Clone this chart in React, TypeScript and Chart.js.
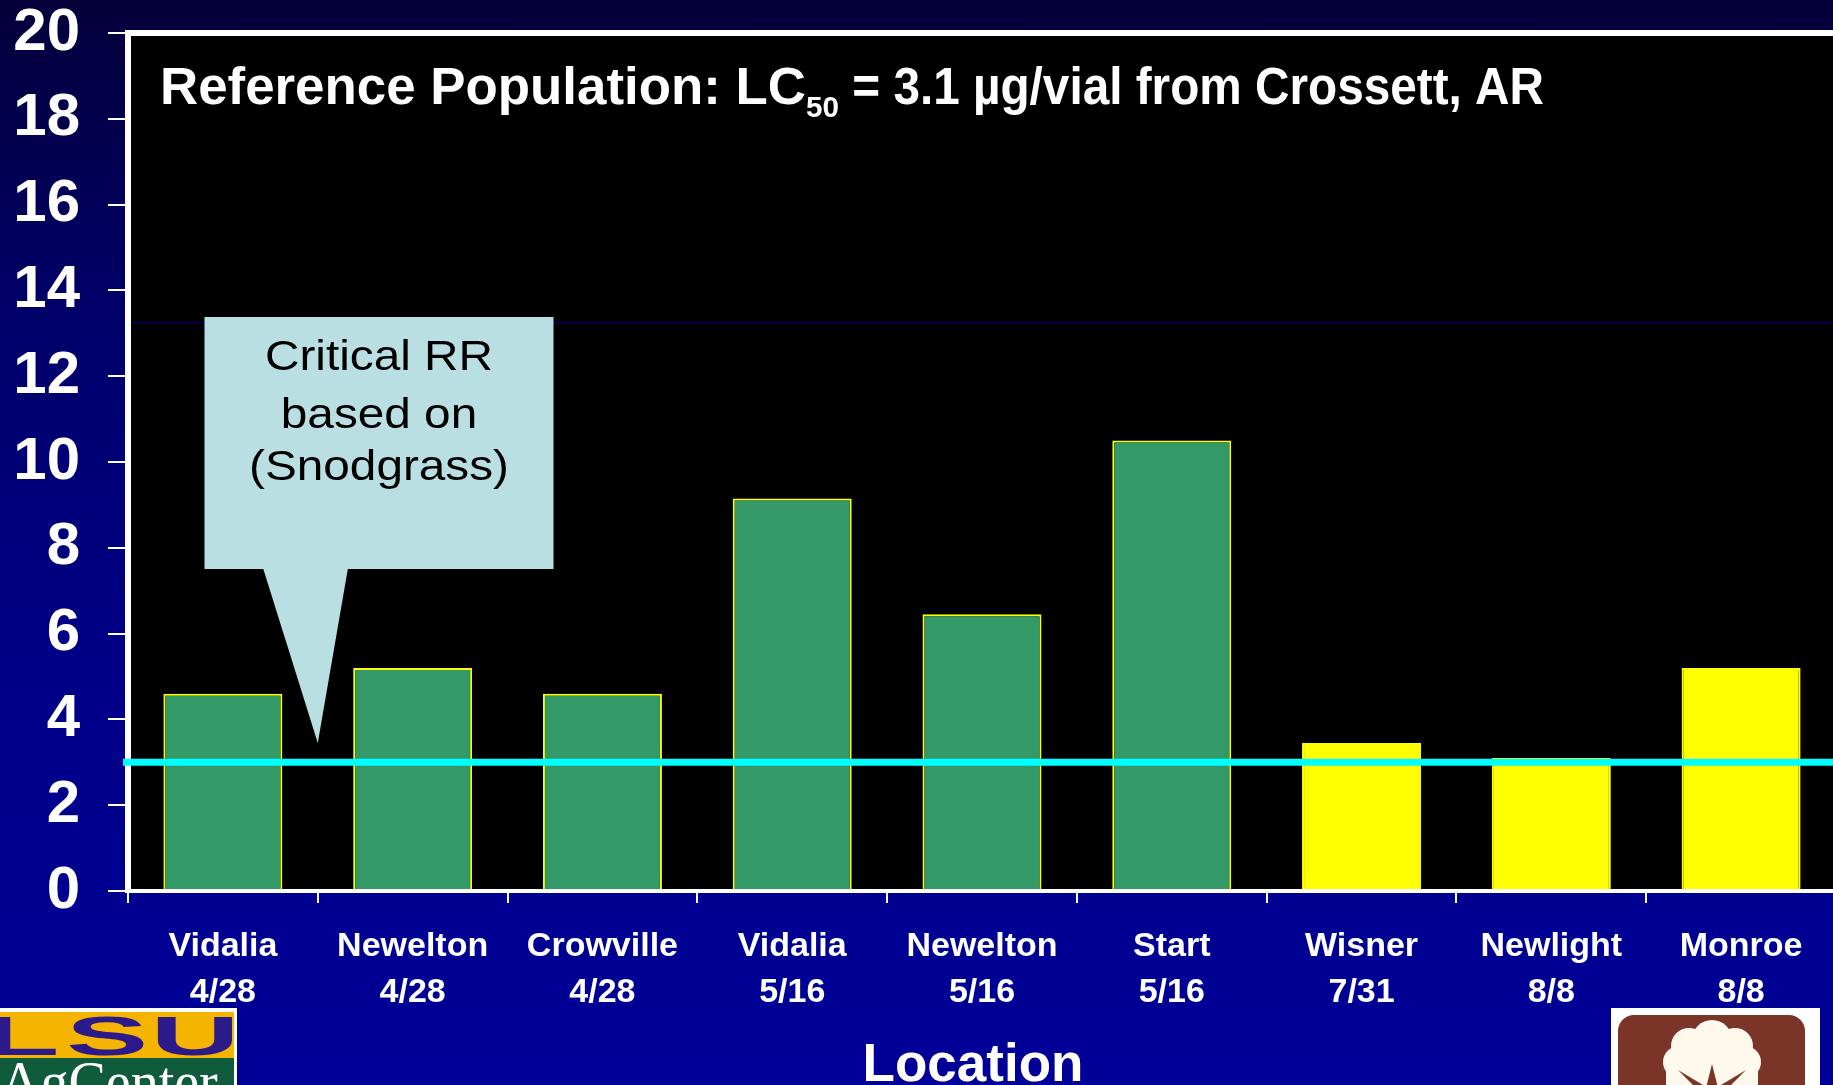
import React, { useEffect, useRef } from "react";
import { Chart, registerables } from "chart.js";

Chart.register(...registerables);

// ---------- data ----------
const locations = ["Vidalia", "Newelton", "Crowville", "Vidalia", "Newelton", "Start", "Wisner", "Newlight", "Monroe"];
const sampleDates = ["4/28", "4/28", "4/28", "5/16", "5/16", "5/16", "7/31", "8/8", "8/8"];
const resistanceRatios = [4.6, 5.2, 4.6, 9.15, 6.45, 10.5, 3.45, 3.1, 5.2];
const barFills = ["#339966", "#339966", "#339966", "#339966", "#339966", "#339966", "#FFFF00", "#FFFF00", "#FFFF00"];
const criticalRR = 3;
const faintGuideValue = 13.25;
const yMin = 0;
const yMax = 20;
const yStep = 2;
const titleMain = "Reference Population: LC";
const titleSub = "50";
const titleRest = " = 3.1 µg/vial from Crossett, AR";
const calloutLines = ["Critical RR", "based on", "(Snodgrass)"];
const xAxisTitle = "Location";

// ---------- layout ----------
const W = 1836;
const H = 1085;
const PLOT_TOP = 33;
const PLOT_LEFT = 128;
const PLOT_BOTTOM = 891;
const FONT = '"Liberation Sans", Arial, Helvetica, sans-serif';

function fitText(ctx: CanvasRenderingContext2D, text: string, x: number, y: number, targetW: number) {
  const w = ctx.measureText(text).width;
  ctx.save();
  ctx.translate(x, y);
  ctx.scale(targetW / w, 1);
  ctx.fillText(text, 0, 0);
  ctx.restore();
}

const decorPlugin = {
  id: "slideDecor",
  beforeDatasetsDraw(chart: any) {
    const { ctx, chartArea: a, scales } = chart;
    ctx.save();
    ctx.fillStyle = "#000000";
    ctx.fillRect(a.left, a.top, a.right - a.left, a.bottom - a.top);
    const fy = scales.y.getPixelForValue(faintGuideValue);
    ctx.strokeStyle = "#00005e";
    ctx.lineWidth = 1.5;
    ctx.beginPath();
    ctx.moveTo(a.left, fy);
    ctx.lineTo(a.right, fy);
    ctx.stroke();
    ctx.restore();
  },
  afterDatasetsDraw(chart: any) {
    const { ctx, chartArea: a, scales } = chart;
    ctx.save();
    // white frame
    ctx.strokeStyle = "#ffffff";
    ctx.lineWidth = 6;
    ctx.beginPath();
    ctx.moveTo(a.left - 3, a.top);
    ctx.lineTo(a.right, a.top);
    ctx.stroke();
    ctx.beginPath();
    ctx.moveTo(a.left, a.top - 3);
    ctx.lineTo(a.left, a.bottom + 2);
    ctx.stroke();
    ctx.lineWidth = 4;
    ctx.beginPath();
    ctx.moveTo(a.left - 3, a.bottom);
    ctx.lineTo(a.right, a.bottom);
    ctx.stroke();

    // critical RR line
    const cy = scales.y.getPixelForValue(criticalRR);
    ctx.strokeStyle = "#00FFFF";
    ctx.lineWidth = 7;
    ctx.beginPath();
    ctx.moveTo(a.left - 5, cy);
    ctx.lineTo(a.right, cy);
    ctx.stroke();

    // callout
    ctx.fillStyle = "#B9DFE3";
    ctx.fillRect(204.5, 317, 349, 252);
    ctx.beginPath();
    ctx.moveTo(263, 568);
    ctx.lineTo(348, 568);
    ctx.lineTo(scales.x.getPixelForValue(0.5), 743);
    ctx.closePath();
    ctx.fill();
    ctx.fillStyle = "#000000";
    ctx.font = `43px ${FONT}`;
    ctx.textAlign = "center";
    ctx.textBaseline = "alphabetic";
    const baselines = [370, 428, 480];
    calloutLines.forEach((line, i) => {
      ctx.save();
      ctx.translate(379, baselines[i]);
      ctx.scale(1.11, 1);
      ctx.fillText(line, 0, 0);
      ctx.restore();
    });

    // title inside plot
    ctx.fillStyle = "#ffffff";
    ctx.textAlign = "left";
    ctx.font = `bold 51px ${FONT}`;
    fitText(ctx, titleMain, 160, 104, 806 - 160);
    ctx.font = `bold 29px ${FONT}`;
    fitText(ctx, titleSub, 806, 117, 33);
    ctx.font = `bold 51px ${FONT}`;
    fitText(ctx, titleRest, 839, 104, 1544 - 839);
    ctx.restore();
  },
  afterDraw(chart: any) {
    const { ctx } = chart;
    ctx.save();
    // x axis title
    ctx.fillStyle = "#ffffff";
    ctx.font = `bold 53px ${FONT}`;
    ctx.textAlign = "center";
    ctx.textBaseline = "alphabetic";
    ctx.fillText(xAxisTitle, 973, 1081);

    // LSU AgCenter logo
    ctx.fillStyle = "#ffffff";
    ctx.fillRect(0, 1008, 237, 80);
    ctx.fillStyle = "#F4B400";
    ctx.fillRect(0, 1012, 234, 46);
    ctx.fillStyle = "#0F5B3B";
    ctx.fillRect(0, 1058, 234, 30);
    ctx.save();
    ctx.beginPath();
    ctx.rect(0, 1012, 234, 46);
    ctx.clip();
    ctx.fillStyle = "#2D1A8A";
    ctx.font = `bold 56px ${FONT}`;
    ctx.textAlign = "center";
    [["L", 22], ["S", 107], ["U", 195]].forEach(([t, cx]) => {
      ctx.save();
      ctx.translate(cx as number, 1055);
      ctx.scale(2.2, 1);
      ctx.fillText(t as string, 0, 0);
      ctx.restore();
    });
    ctx.restore();
    ctx.save();
    ctx.beginPath();
    ctx.rect(0, 1058, 234, 30);
    ctx.clip();
    ctx.fillStyle = "#ffffff";
    ctx.font = `56px "Liberation Serif", serif`;
    ctx.textAlign = "left";
    ctx.fillText("AgCenter", 0, 1101);
    ctx.restore();

    // cotton logo
    ctx.fillStyle = "#ffffff";
    ctx.fillRect(1611, 1008, 209, 80);
    ctx.fillStyle = "#7A3428";
    ctx.beginPath();
    (ctx as any).roundRect(1618, 1015, 187, 100, 16);
    ctx.fill();
    ctx.fillStyle = "#FFF8EC";
    const circles = [
      [1712, 1040, 20], [1689, 1046, 18], [1735, 1046, 18],
      [1679, 1062, 16], [1745, 1062, 16], [1712, 1060, 24],
    ];
    circles.forEach(([cx, cy, r]) => {
      ctx.beginPath();
      ctx.arc(cx, cy, r, 0, Math.PI * 2);
      ctx.fill();
    });
    ctx.fillRect(1666, 1062, 92, 30);
    ctx.fillStyle = "#7A3428";
    ctx.beginPath();
    ctx.moveTo(1678, 1070);
    ctx.lineTo(1708, 1088);
    ctx.lineTo(1696, 1088);
    ctx.closePath();
    ctx.fill();
    ctx.beginPath();
    ctx.moveTo(1712, 1064);
    ctx.lineTo(1718, 1088);
    ctx.lineTo(1706, 1088);
    ctx.closePath();
    ctx.fill();
    ctx.beginPath();
    ctx.moveTo(1746, 1070);
    ctx.lineTo(1728, 1088);
    ctx.lineTo(1716, 1088);
    ctx.closePath();
    ctx.fill();
    ctx.restore();
  },
};

export default function App() {
  const canvasRef = useRef<HTMLCanvasElement | null>(null);

  useEffect(() => {
    const canvas = canvasRef.current;
    if (!canvas) return;
    const labels = locations.map((loc, i) => [loc, sampleDates[i]]);
    const chart = new Chart(canvas, {
      type: "bar",
      data: {
        labels,
        datasets: [
          {
            data: resistanceRatios,
            backgroundColor: barFills,
            borderColor: "#FFFF00",
            borderWidth: 2,
            barPercentage: 0.627,
            categoryPercentage: 1,
          },
        ],
      },
      options: {
        animation: false,
        responsive: false,
        devicePixelRatio: 1,
        layout: { padding: { top: PLOT_TOP, left: 0, right: 0, bottom: 0 } },
        plugins: {
          legend: { display: false },
          tooltip: { enabled: false },
          title: { display: false },
        },
        scales: {
          x: {
            type: "category",
            offset: true,
            border: { display: false },
            grid: {
              display: true,
              offset: true,
              drawOnChartArea: false,
              drawTicks: true,
              tickLength: 12,
              color: "#ffffff",
              lineWidth: 2,
            },
            ticks: {
              color: "#ffffff",
              padding: 21,
              autoSkip: false,
              maxRotation: 0,
              minRotation: 0,
              font: { family: FONT, size: 34, weight: "bold", lineHeight: 1.353 },
            },
            title: { display: false },
            afterFit: (scale: any) => {
              scale.height = H - PLOT_BOTTOM;
              scale.paddingLeft = 0;
              scale.paddingRight = 0;
            },
          },
          y: {
            min: yMin,
            max: yMax,
            border: { display: false },
            grid: {
              display: true,
              drawOnChartArea: false,
              drawTicks: true,
              tickLength: 20,
              color: "#ffffff",
              lineWidth: 2,
            },
            ticks: {
              stepSize: yStep,
              color: "#ffffff",
              padding: 28,
              font: { family: FONT, size: 60, weight: "bold", lineHeight: 1 },
            },
            afterFit: (scale: any) => {
              scale.width = PLOT_LEFT;
              scale.paddingTop = 0;
              scale.paddingBottom = 0;
            },
          },
        },
      },
      plugins: [decorPlugin],
    });
    return () => chart.destroy();
  }, []);

  return (
    <div
      style={{
        position: "fixed",
        left: 0,
        top: 0,
        width: 1833,
        height: 1085,
        overflow: "hidden",
        background: "linear-gradient(to bottom, #05003a 0%, #00006a 30%, #000086 60%, #000099 100%)",
      }}
    >
      <canvas ref={canvasRef} width={W} height={H} style={{ display: "block", width: W, height: H }} />
    </div>
  );
}
